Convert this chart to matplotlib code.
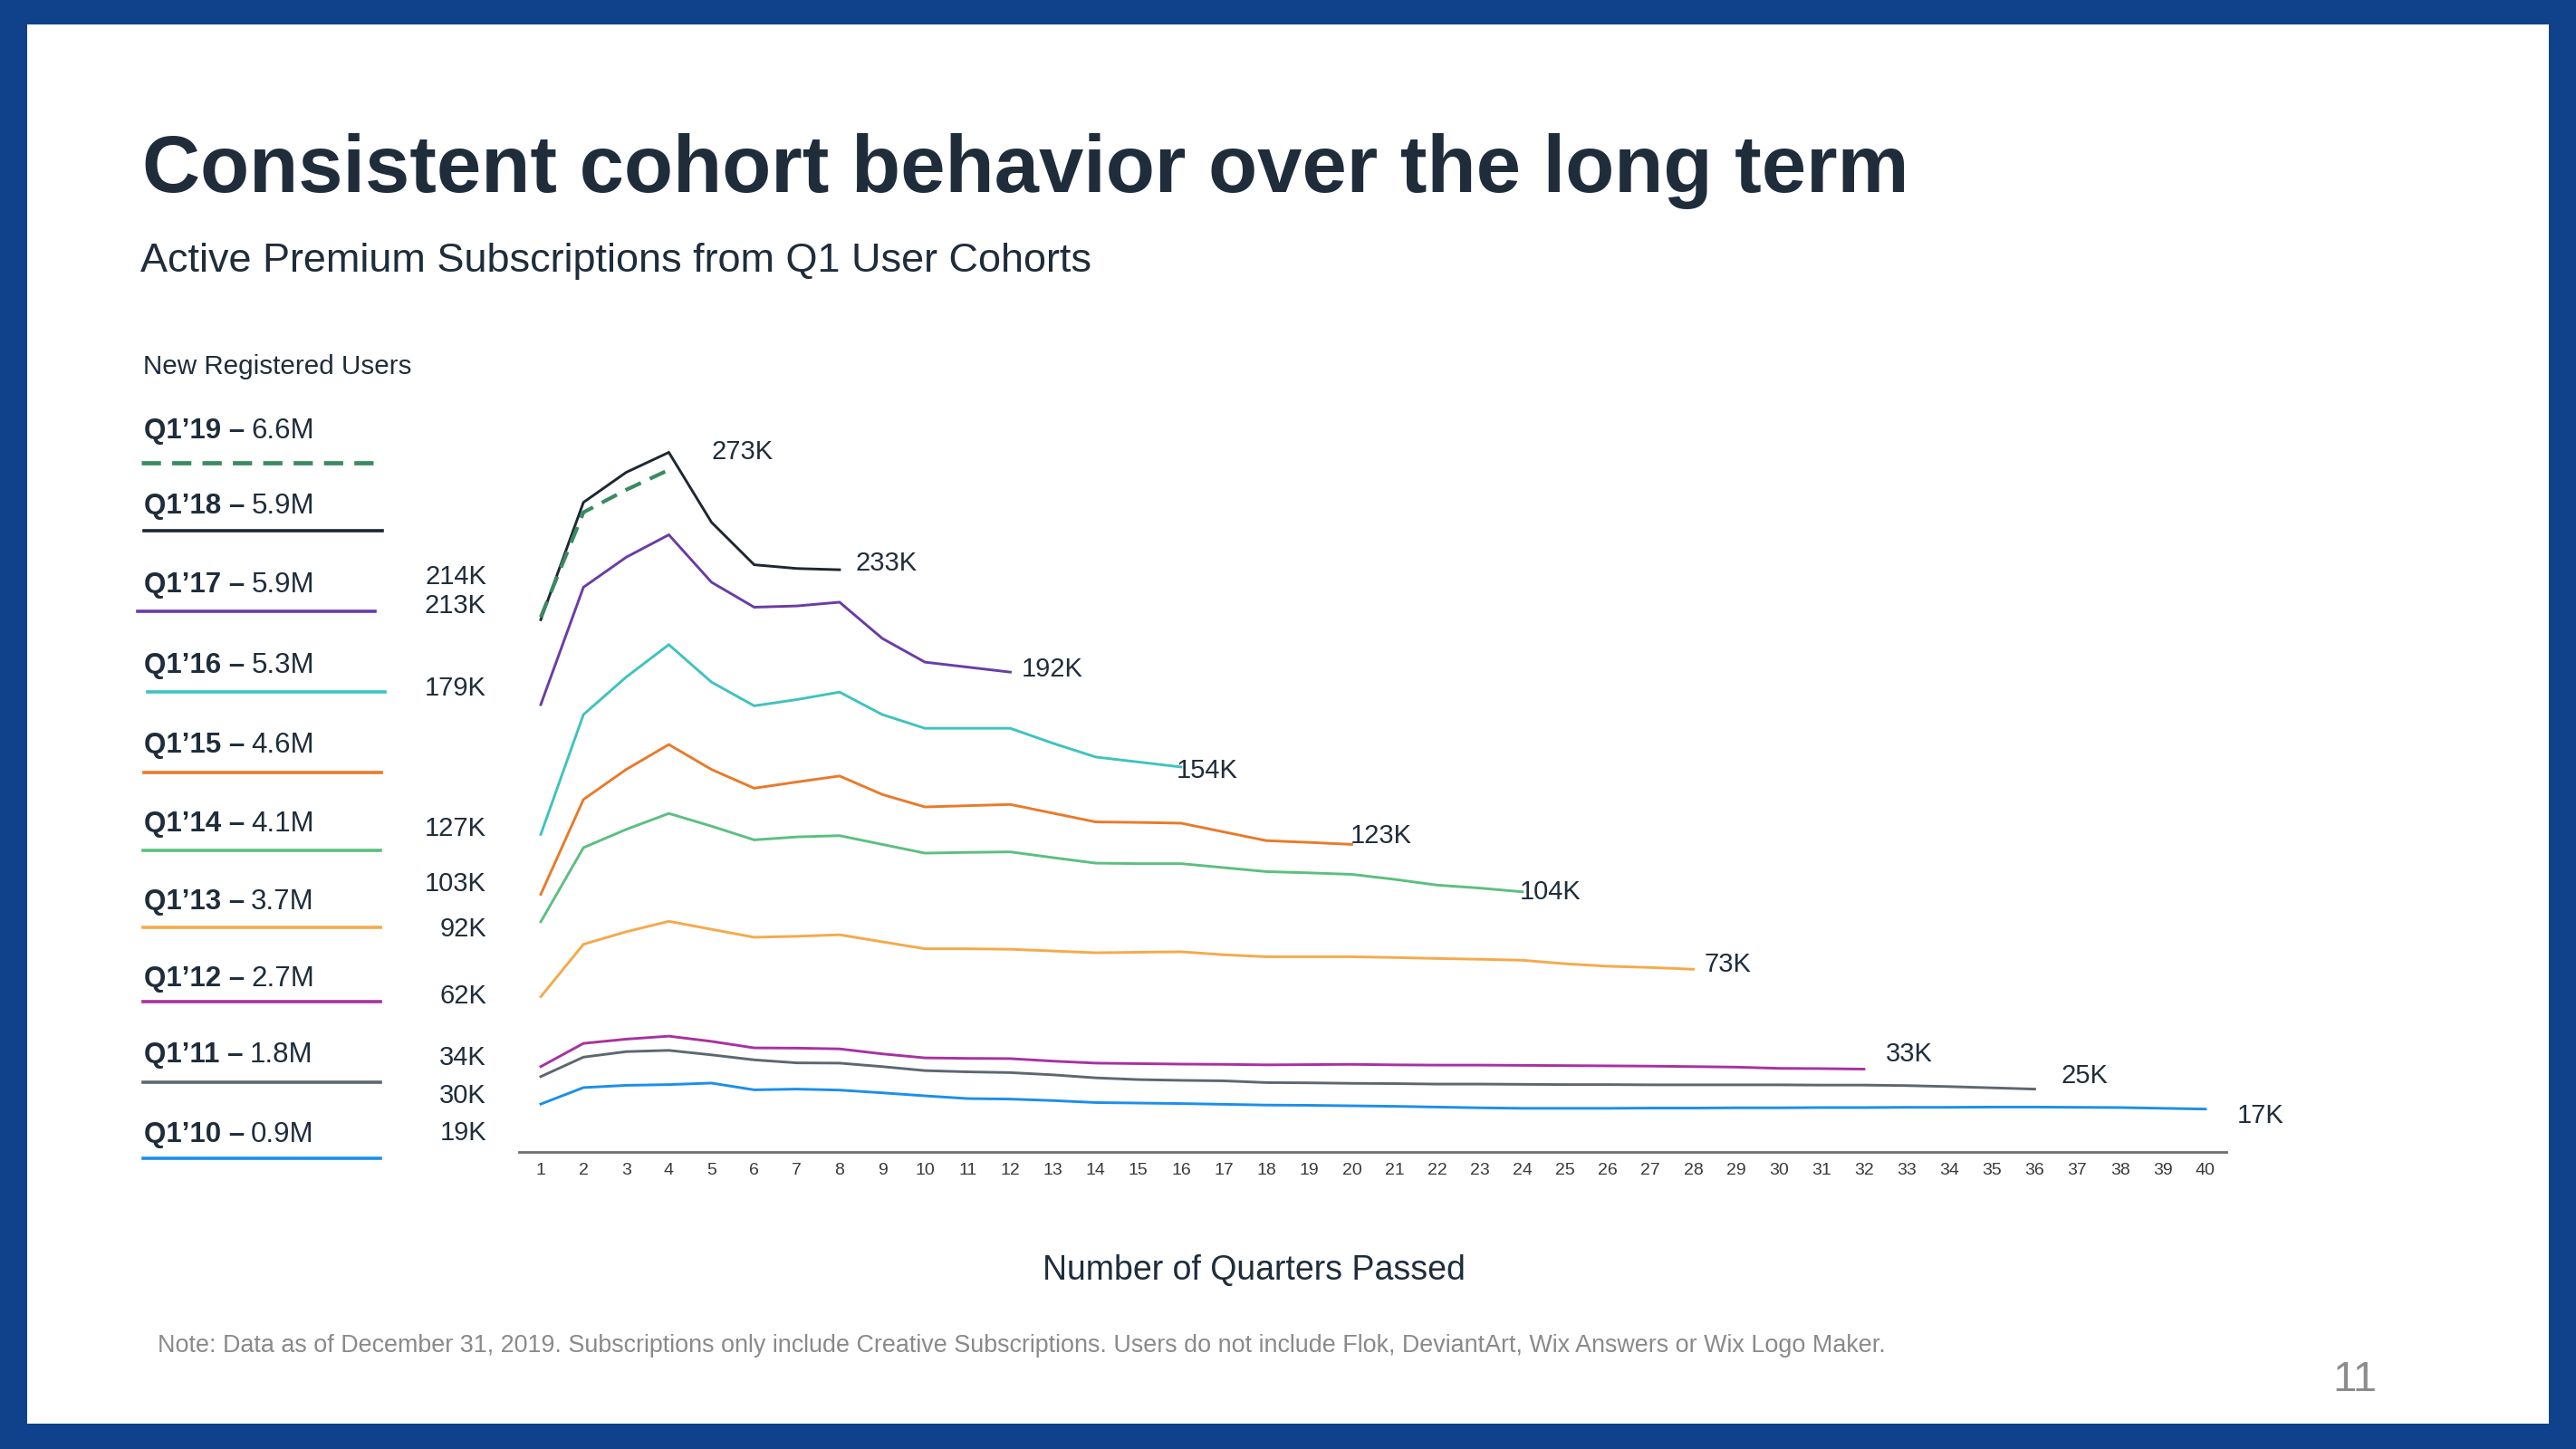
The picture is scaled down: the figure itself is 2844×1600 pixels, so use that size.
import matplotlib
matplotlib.use("Agg")
import matplotlib.pyplot as plt
from matplotlib.lines import Line2D
from matplotlib.patches import Rectangle

# ---------------- data (thousands of active premium subscriptions) ----------------
cohorts = ["Q1\u201919", "Q1\u201918", "Q1\u201917", "Q1\u201916", "Q1\u201915",
           "Q1\u201914", "Q1\u201913", "Q1\u201912", "Q1\u201911", "Q1\u201910"]
new_users = ["6.6M", "5.9M", "5.9M", "5.3M", "4.6M", "4.1M", "3.7M", "2.7M", "1.8M", "0.9M"]

q19 = [214, 256, 265, 273]
q18 = [213, 260, 272, 280, 252, 235, 233.5, 233]
q17 = [179, 226, 238, 247, 228, 218, 218.5, 220, 205.5, 196, 194, 192]
q16 = [127, 175, 190, 203, 188, 178.5, 181, 184, 175, 169.5, 169.5, 169.5, 163.5, 158, 156, 154]
q15 = [103, 141, 153, 163, 153, 145.5, 148, 150.4, 143, 138, 138.5, 139, 135.5, 132, 131.8,
       131.5, 128, 124.5, 123.8, 123]
q14 = [92, 121.7, 129, 135.4, 130.3, 124.8, 126, 126.5, 123, 119.5, 119.8, 120, 117.7, 115.5,
       115.3, 115.3, 113.7, 112.1, 111.6, 111, 109, 106.7, 105.5, 104]
q13 = [62, 83, 88, 92.2, 89, 85.8, 86.2, 86.8, 84, 81.2, 81.2, 81, 80.3, 79.6, 79.8, 80, 78.8,
       78, 78, 78, 77.7, 77.3, 77, 76.6, 75.2, 74.2, 73.7, 73]
q12 = [34, 43.3, 45, 46.2, 44.1, 41.5, 41.4, 41.1, 39.1, 37.5, 37.3, 37.2, 36.2, 35.4, 35.2,
       35.0, 34.9, 34.7, 34.8, 34.9, 34.7, 34.6, 34.6, 34.5, 34.4, 34.3, 34.2, 34.0, 33.8, 33.3,
       33.2, 33]
q11 = [30, 37.8, 40, 40.5, 38.7, 36.7, 35.5, 35.4, 34, 32.4, 31.9, 31.6, 30.7, 29.5, 28.8,
       28.5, 28.3, 27.6, 27.5, 27.3, 27.2, 27.0, 27.0, 26.9, 26.8, 26.8, 26.7, 26.7, 26.7, 26.7,
       26.6, 26.6, 26.4, 26.0, 25.5, 25]
q10 = [19, 25.6, 26.5, 26.8, 27.4, 24.7, 25, 24.6, 23.5, 22.3, 21.2, 21, 20.4, 19.6, 19.4,
       19.2, 18.9, 18.6, 18.5, 18.3, 18.1, 17.8, 17.5, 17.3, 17.3, 17.3, 17.4, 17.4, 17.5, 17.5,
       17.6, 17.6, 17.7, 17.7, 17.8, 17.8, 17.7, 17.6, 17.3, 17]
series = [q19, q18, q17, q16, q15, q14, q13, q12, q11, q10]

start_labels = [214, 213, 179, 127, 103, 92, 62, 34, 30, 19]
quarter_ticks = list(range(1, 41))

# ---------------- styling / layout ----------------
colors = ["#3b8a62", "#1d2731", "#6a3ca6", "#3fc3bf", "#e97a2b", "#5cbf80",
          "#f6a94b", "#a8329f", "#5e6770", "#1b8fea"]
styles = [(0, (4.5, 2.6)), "-", "-", "-", "-", "-", "-", "-", "-", "-"]
TXT = "#1f2d3b"
W, H = 2844, 1600

def fx(px):
    return px / W

def fy(py):
    return 1 - py / H

FONT = ["Liberation Sans", "DejaVu Sans"]
plt.rcParams["font.family"] = FONT

fig = plt.figure(figsize=(W / 100, H / 100), dpi=100)
fig.patch.set_facecolor("#10428c")
fig.add_artist(Rectangle((fx(30), fy(1572)), fx(2814) - fx(30), fy(27) - fy(1572),
                         transform=fig.transFigure, facecolor="white", edgecolor="none", zorder=0))

# axes: x=1 at 597px, x=40 at 2435px ; y=0 at 1271px
ax_l, ax_r, ax_b, ax_t = 573, 2458, 1271.5, 450
ax = fig.add_axes([fx(ax_l), fy(ax_b), fx(ax_r) - fx(ax_l), fy(ax_t) - fy(ax_b)])
ax.set_facecolor("none")
ax.set_xlim(0.49, 40.49)
ax.set_ylim(0, (ax_b - ax_t) / 2.757)

for i, vals in enumerate(series):
    xs = list(range(1, len(vals) + 1))
    ax.plot(xs, vals, color=colors[i], linestyle=styles[i],
            lw=3.0 if i == 0 else 2.1, zorder=10 - i + (5 if i == 0 else 0),
            solid_joinstyle="miter", clip_on=False)

# end labels
end_offsets = [(34, 14), (13, 5), (9, 2.6), (-4, -2.6), (-1.3, 6.5), (-2.6, 0),
               (9, 4), (17, 12), (21, 10.5), (25, -5)]
for i, vals in enumerate(series):
    ax.annotate(f"{vals[-1]:.0f}K", (len(vals), vals[-1]), xytext=end_offsets[i],
                textcoords="offset points", ha="left", va="center",
                fontsize=21, color=TXT, zorder=20, annotation_clip=False)

for s in ["top", "right", "left"]:
    ax.spines[s].set_visible(False)
ax.spines["bottom"].set_color("#6e6e6e")
ax.spines["bottom"].set_linewidth(2.0)
ax.set_yticks([])
ax.set_xticks(quarter_ticks)
ax.set_xticklabels([str(t) for t in quarter_ticks],
                   family=["Liberation Sans Narrow", "Liberation Sans", "DejaVu Sans"])
ax.tick_params(axis="x", length=0, pad=9, labelsize=14, labelcolor="#3a3a3a")

# ---------------- texts ----------------
fig.text(fx(157), fy(212), "Consistent cohort behavior over the long term",
         fontsize=63.8, fontweight="bold", color=TXT, va="baseline", ha="left")
fig.text(fx(155), fy(300), "Active Premium Subscriptions from Q1 User Cohorts",
         fontsize=32.4, color=TXT, va="baseline", ha="left")
fig.text(fx(158), fy(413), "New Registered Users", fontsize=21.3, color=TXT, va="baseline")

leg_text_y = [484, 567, 654, 743, 831, 918, 1004, 1089, 1173, 1261]
leg_line_y = [511, 586, 675, 764, 853, 939, 1024, 1106, 1195, 1279]
leg_line_x = [(156, 415), (159, 422), (152, 414), (163, 425), (159, 421),
              (158, 420), (158, 420), (158, 420), (158, 420), (158, 420)]
renderer = fig.canvas.get_renderer()
for i in range(len(cohorts)):
    t = fig.text(fx(159), fy(leg_text_y[i]), cohorts[i] + " \u2013", fontsize=22.5,
                 fontweight="bold", color=TXT, va="baseline")
    bb = t.get_window_extent(renderer=renderer)
    fig.text(bb.x1 / W + fx(7), fy(leg_text_y[i]), new_users[i], fontsize=22.5,
             color=TXT, va="baseline")
    x0, x1 = leg_line_x[i]
    fig.add_artist(Line2D([fx(x0), fx(x1)], [fy(leg_line_y[i])] * 2, transform=fig.transFigure,
                          color=colors[i], lw=3.4 if i == 0 else 2.6, linestyle=styles[i]))

start_y = [645, 677, 768, 923, 984, 1034, 1108, 1176, 1218, 1259]
for v, yy in zip(start_labels, start_y):
    fig.text(fx(537), fy(yy), f"{v}K", fontsize=21, color=TXT, ha="right", va="baseline")

fig.text(fx(1384), fy(1403), "Number of Quarters Passed", fontsize=27, color=TXT,
         ha="center", va="center")
fig.text(fx(174), fy(1486),
         "Note: Data as of December 31, 2019. Subscriptions only include Creative Subscriptions. "
         "Users do not include Flok, DeviantArt, Wix Answers or Wix Logo Maker.",
         fontsize=19.4, color="#8a8a8a", ha="left", va="center")
fig.text(fx(2600), fy(1524), "11", fontsize=34, color="#8c8c8c", ha="center", va="center")

fig.savefig("out.png", dpi=100, facecolor=fig.get_facecolor())
